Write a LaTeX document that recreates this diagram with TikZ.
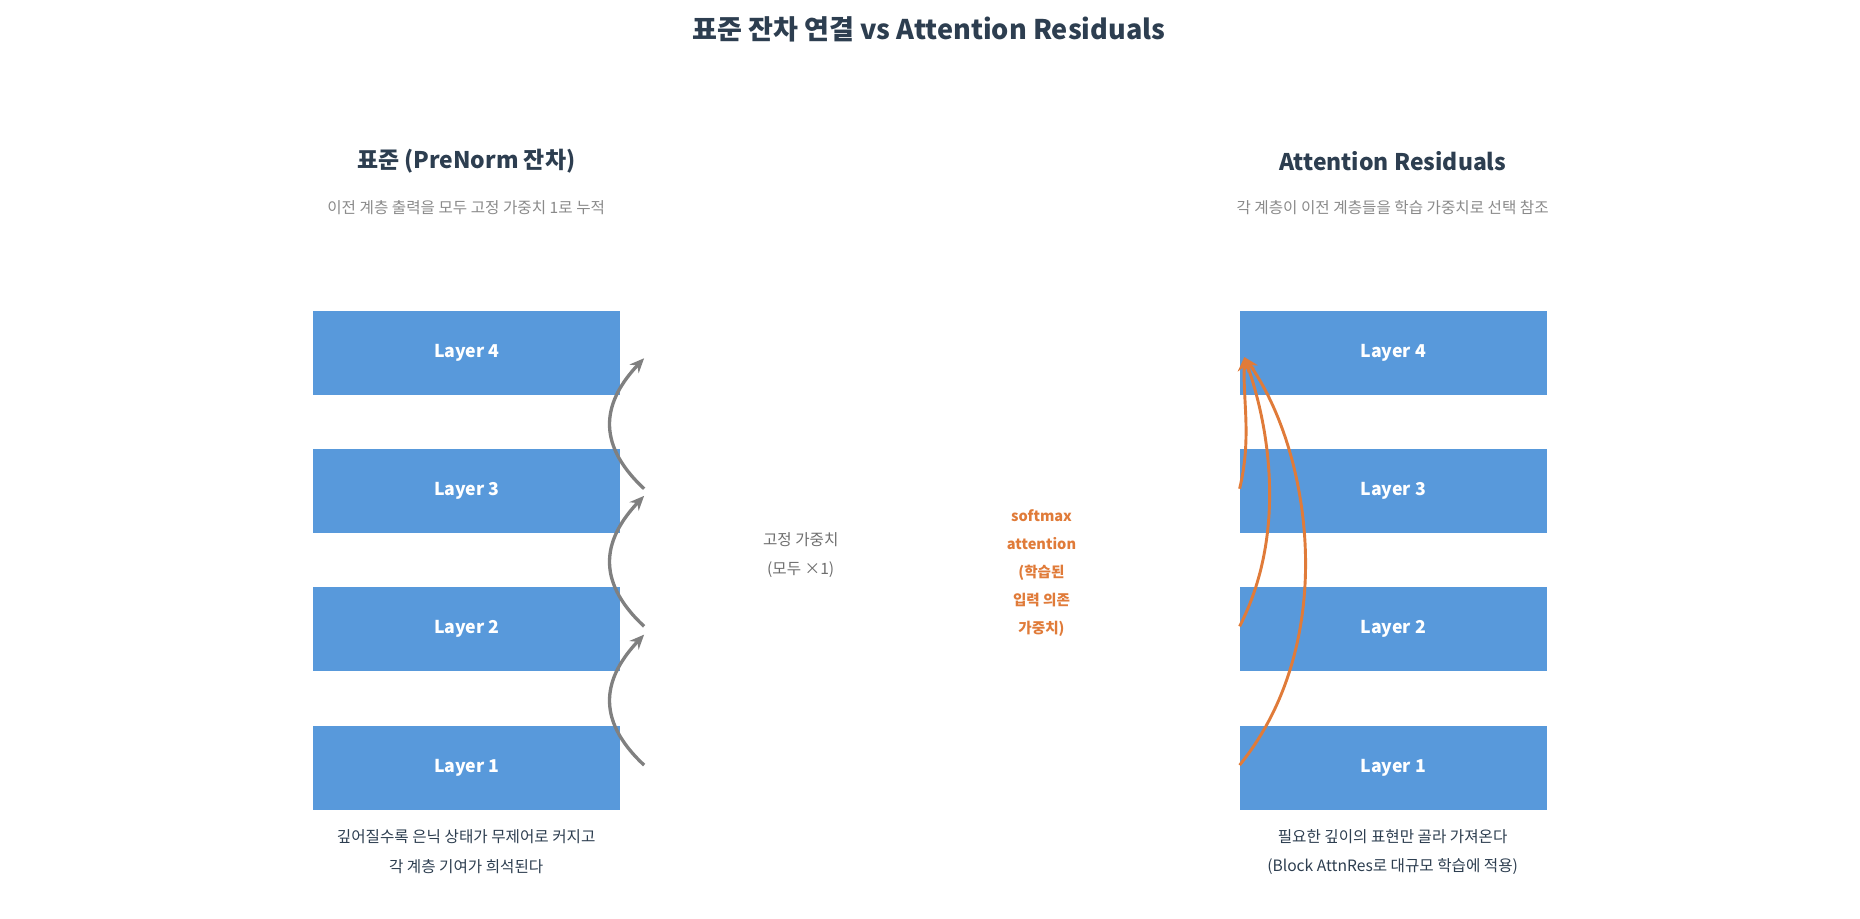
\documentclass[tikz,border=0pt]{standalone}
\usepackage{fontspec}
\setmainfont{Noto Sans CJK KR}
\usetikzlibrary{arrows.meta}
\definecolor{navy}{HTML}{2D3E50}
\definecolor{layerblue}{HTML}{5899DB}
\definecolor{attnorange}{HTML}{E07B39}
\definecolor{softgray}{HTML}{8A8A8A}
\tikzset{
  layer/.style={fill=layerblue, draw=none, minimum width=259*0.02cm, minimum height=71*0.02cm, text=white, font=\fontsize{8.5}{10}\selectfont\bfseries},
  heading/.style={text=navy, font=\fontsize{11}{13}\selectfont\bfseries},
  subhead/.style={text=softgray, font=\fontsize{7.5}{9}\selectfont},
  note/.style={text=navy, font=\fontsize{7.5}{14}\selectfont, align=center},
  fixedarrow/.style={draw=gray, line width=1.6pt, -{Stealth[length=7pt,width=6pt]}},
  attnarrow/.style={draw=attnorange, line width=1.4pt, -{Stealth[length=7pt,width=6pt]}}
}
\begin{document}
\begin{tikzpicture}[x=0.02cm, y=-0.02cm]
  \useasboundingbox (0,0) rectangle (1568,774);

  % titles
  \node[text=navy, font=\fontsize{13}{15}\selectfont\bfseries] (title) at (783,25) {표준 잔차 연결 vs Attention Residuals};
  \node[heading] (lhead) at (393,136) {표준 (PreNorm 잔차)};
  \node[subhead] (lsub) at (393,175) {이전 계층 출력을 모두 고정 가중치 1로 누적};
  \node[heading] (rhead) at (1174,136) {Attention Residuals};
  \node[subhead] (rsub) at (1174,175) {각 계층이 이전 계층들을 학습 가중치로 선택 참조};

  % layer stacks
  \foreach \n/\y in {4/297.5, 3/414, 2/530.5, 1/647.5} {
    \node[layer] (L\n) at (393.5,\y) {Layer \n};
    \node[layer] (R\n) at (1174.5,\y) {Layer \n};
  }

  % standard residual arrows
  \coordinate (s1) at (543,645);
  \coordinate (s2) at (543,528);
  \coordinate (s3) at (543,412);
  \coordinate (e2) at (543,535);
  \coordinate (e3) at (543,418);
  \coordinate (e4) at (543,302);
  \draw[fixedarrow] (s1) .. controls (500,605) and (510,570) .. (e2);
  \draw[fixedarrow] (s2) .. controls (500,488) and (510,453) .. (e3);
  \draw[fixedarrow] (s3) .. controls (500,372) and (510,337) .. (e4);

  % attention residual arrows
  \coordinate (a1) at (1045,645);
  \coordinate (a2) at (1045,528);
  \coordinate (a3) at (1045,412);
  \coordinate (top) at (1049,301);
  \draw[attnarrow] (a1) .. controls (1130,540) and (1105,380) .. (top);
  \draw[attnarrow] (a2) .. controls (1085,450) and (1070,360) .. (top);
  \draw[attnarrow] (a3) .. controls (1055,370) and (1048,340) .. (top);

  % labels
  \node[text=softgray!80!black, font=\fontsize{7.5}{14}\selectfont, align=center] (fixedlbl) at (675,468) {고정 가중치\\(모두 ×1)};
  \node[text=attnorange, font=\fontsize{7}{13.5}\selectfont\bfseries, align=center] (attnlbl) at (878,483) {softmax\\attention\\(학습된\\입력 의존\\가중치)};
  \node[note] (lnote) at (393,718) {깊어질수록 은닉 상태가 무제어로 커지고\\각 계층 기여가 희석된다};
  \node[note] (rnote) at (1174,718) {필요한 깊이의 표현만 골라 가져온다\\(Block AttnRes로 대규모 학습에 적용)};
\end{tikzpicture}
\end{document}
